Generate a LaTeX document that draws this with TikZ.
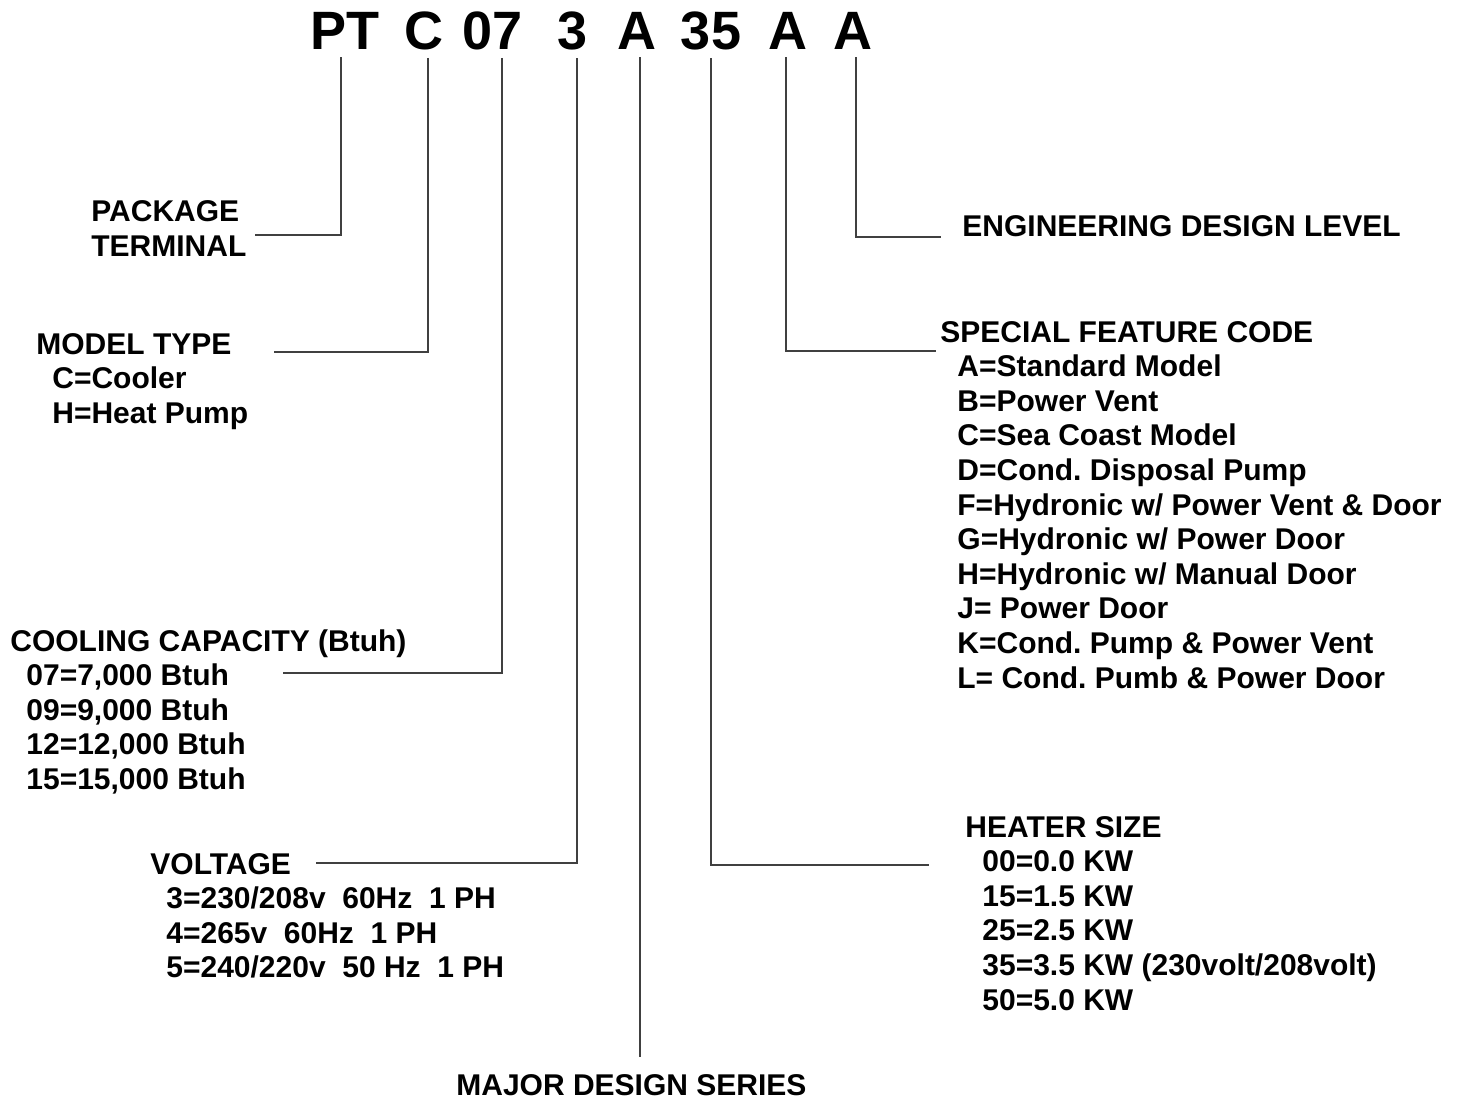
\documentclass[tikz,border=0pt]{standalone}
\usepackage{fontspec}
\setmainfont{Liberation Sans}
\frenchspacing
\begin{document}
\begin{tikzpicture}[
    x=0.5pt, y=-0.5pt,
    code/.style={font=\fontsize{27}{32}\selectfont\bfseries, anchor=base, inner xsep=0pt, inner ysep=4pt},
    head/.style={font=\fontsize{15}{17}\selectfont\bfseries, anchor=base west, inner sep=0pt},
    item/.style={head},
    lead/.style={draw=black!75, line width=0.6pt},
  ]
  \useasboundingbox (0,0) rectangle (1466,1099);
  % model number
  \node[code] (pt)  at (345,49) {PT};
  \node[code] (c)   at (424,49) {C};
  \node[code] (cap) at (493,49) {07};
  \node[code] (vlt) at (573,49) {3};
  \node[code] (a1)  at (637,49) {A};
  \node[code] (htr) at (711,49) {35};
  \node[code] (a2)  at (788,49) {A};
  \node[code] (a3)  at (853,49) {A};

  % left side labels
  \node[head] (pkg-1) at (91,221) {PACKAGE};
  \node[head] (pkg-2) at (91,256) {TERMINAL};

  \node[head] (type) at (36,354) {MODEL TYPE};
  \foreach \txt [count=\i] in {C=Cooler, H=Heat Pump}
    \node[item] (type-\i) at (52,{354+\i*34.6}) {\txt};

  \node[head] (cool) at (10,651) {COOLING CAPACITY (Btuh)};
  \foreach \txt [count=\i] in {{07=7,000 Btuh}, {09=9,000 Btuh}, {12=12,000 Btuh}, {15=15,000 Btuh}}
    \node[item] (cool-\i) at (26,{651+\i*34.6}) {\txt};

  \node[head] (volt) at (150,874) {VOLTAGE};
  \foreach \txt [count=\i] in {3=230/208v\ \ 60Hz\ \ 1 PH, 4=265v\ \ 60Hz\ \ 1 PH, 5=240/220v\ \ 50 Hz\ \ 1 PH}
    \node[item] (volt-\i) at (166,{874+\i*34.6}) {\txt};

  \node[head] (series) at (456,1095) {MAJOR DESIGN SERIES};

  % right side labels
  \node[head] (eng) at (962,236) {ENGINEERING DESIGN LEVEL};

  \node[head] (spec) at (940,342) {SPECIAL FEATURE CODE};
  \foreach \txt [count=\i] in {A=Standard Model, B=Power Vent, C=Sea Coast Model,
      D=Cond. Disposal Pump, F=Hydronic w/ Power Vent \& Door, G=Hydronic w/ Power Door,
      H=Hydronic w/ Manual Door, J= Power Door, K=Cond. Pump \& Power Vent,
      L= Cond. Pumb \& Power Door}
    \node[item] (spec-\i) at (957,{342+\i*34.6}) {\txt};

  \node[head] (heat) at (965,837) {HEATER SIZE};
  \foreach \txt [count=\i] in {00=0.0 KW, 15=1.5 KW, 25=2.5 KW, 35=3.5 KW (230volt/208volt), 50=5.0 KW}
    \node[item] (heat-\i) at (982,{837+\i*34.6}) {\txt};

  % leader lines
  \coordinate (pkg-tip)    at (255,235);
  \coordinate (type-tip)   at (274,352);
  \coordinate (cool-tip)   at (283,673);
  \coordinate (volt-tip)   at (316,863);
  \coordinate (series-tip) at (640,1057);
  \coordinate (heat-tip)   at (929,865);
  \coordinate (spec-tip)   at (936,351);
  \coordinate (eng-tip)    at (941,237);

  \draw[lead] ([xshift=-2pt]pt.south) |- (pkg-tip);
  \draw[lead] ([xshift=2pt]c.south) |- (type-tip);
  \draw[lead] ([xshift=4.5pt]cap.south) |- (cool-tip);
  \draw[lead] ([xshift=2pt]vlt.south) |- (volt-tip);
  \draw[lead] ([xshift=1.5pt]a1.south) -- (series-tip);
  \draw[lead] (htr.south) |- (heat-tip);
  \draw[lead] ([xshift=-1pt]a2.south) |- (spec-tip);
  \draw[lead] ([xshift=1.5pt]a3.south) |- (eng-tip);
\end{tikzpicture}
\end{document}
